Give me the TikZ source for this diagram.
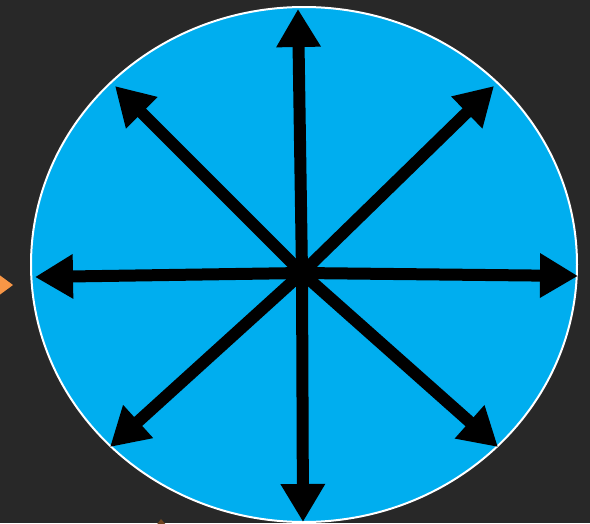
\documentclass[tikz,border=0pt]{standalone}
\usetikzlibrary{arrows.meta,shapes.geometric}
\definecolor{bgdark}{HTML}{282828}
\definecolor{skyfill}{HTML}{00AEEF}
\definecolor{orangeshape}{HTML}{F79646}
\definecolor{brownshape}{HTML}{6E4521}
\begin{document}
\begin{tikzpicture}[x=1pt,y=-1pt,
  ray/.style={line width=12pt, -{Triangle[length=38pt,width=42pt]}, black}]
\clip (0,0) rectangle (590,523);
\fill[bgdark] (0,0) rectangle (590,523);
% partial orange shapes
\fill[orangeshape] (-6,271) -- (13,285) -- (-6,299) -- cycle;
\fill[brownshape] (155,527) -- (161,519) -- (168,527) -- cycle;
% disc
\node[draw=white, line width=2pt, fill=skyfill, ellipse, minimum width=546pt, minimum height=515pt, inner sep=0pt] (disc) at (304,264.5) {};
\coordinate (c) at (302,273);
\coordinate (n) at (298,9);
\coordinate (s) at (303,522);
\coordinate (w) at (35,277);
\coordinate (e) at (578,276);
\coordinate (nw) at (115,86);
\coordinate (ne) at (494,86);
\coordinate (sw) at (110,447);
\coordinate (se) at (498,447);
\foreach \t in {n,s,w,e,nw,ne,sw,se}{
  \draw[ray] (c) -- (\t);
}
\end{tikzpicture}
\end{document}
